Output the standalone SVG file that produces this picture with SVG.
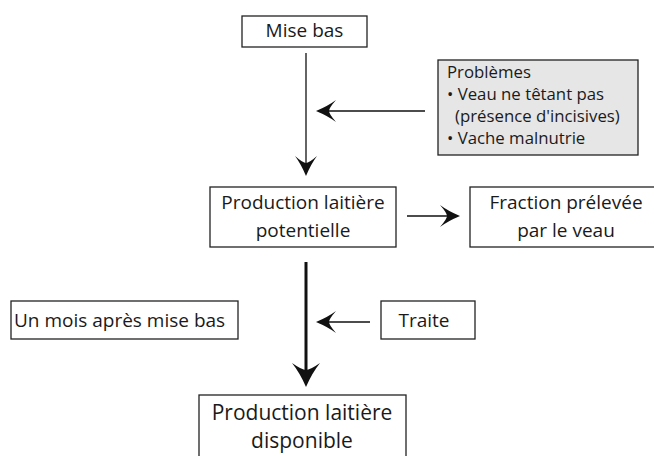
<svg xmlns="http://www.w3.org/2000/svg" width="654" height="456" viewBox="0 0 654 456">
<style>
  .box { fill: #ffffff; stroke: #222222; stroke-width: 1.3; }
  .grey { fill: #e6e6e6; }
  .t { font-family: "Open Sans", "Noto Sans", sans-serif; font-size: 19px; fill: #1a1a1a; }
  .c { text-anchor: middle; }
  .p { font-size: 16.8px; }
  .big { font-size: 21px; }
  .thin { fill: none; stroke: #111111; stroke-width: 1.3; }
  .thick { fill: none; stroke: #111111; stroke-width: 3; }
</style>
<defs>
  <marker id="ah" viewBox="-12 -12 24 24" markerWidth="24" markerHeight="24" refX="0" refY="0" orient="auto" markerUnits="userSpaceOnUse">
    <path d="M10,0 Q-2,-5 -10,-11 Q-3,-3 -3,0 Q-3,3 -10,11 Q-2,5 10,0 Z" fill="#111111"/>
  </marker>
  <marker id="ahB" viewBox="-16 -16 32 32" markerWidth="32" markerHeight="32" refX="0" refY="0" orient="auto" markerUnits="userSpaceOnUse">
    <path d="M12,0 Q-2,-6 -12,-14 Q-5,-4 -5,0 Q-5,4 -12,14 Q-2,6 12,0 Z" fill="#111111"/>
  </marker>
</defs>
<rect width="654" height="456" fill="#ffffff"/>
<g id="connectors">
  <path class="thin" d="M306,53 V166" marker-end="url(#ah)"/>
  <path class="thin" d="M425,111 H326" marker-end="url(#ah)"/>
  <path class="thin" d="M407,216 H450" marker-end="url(#ah)"/>
  <path class="thick" d="M306,262 V375" marker-end="url(#ahB)"/>
  <path class="thin" d="M370,322 H326" marker-end="url(#ah)"/>
</g>
<g id="mise-bas">
  <rect class="box" x="242" y="16" width="125" height="31"/>
  <text class="t c" x="304.5" y="37">Mise bas</text>
</g>
<g id="problemes">
  <rect class="box grey" x="438" y="60" width="200" height="95"/>
  <text class="t p" x="447" y="78">Problèmes</text>
  <text class="t p" x="447" y="100">• Veau ne têtant pas</text>
  <text class="t p" x="455" y="122">(présence d'incisives)</text>
  <text class="t p" x="447" y="144">• Vache malnutrie</text>
</g>
<g id="production-potentielle">
  <rect class="box" x="210" y="187" width="186" height="60"/>
  <text class="t c" x="303" y="209">Production laitière</text>
  <text class="t c" x="303" y="237">potentielle</text>
</g>
<g id="fraction">
  <rect class="box" x="470" y="187" width="200" height="60"/>
  <text class="t c" x="566" y="209">Fraction prélevée</text>
  <text class="t c" x="566" y="237">par le veau</text>
</g>
<g id="un-mois">
  <rect class="box" x="11" y="301" width="227" height="38"/>
  <text class="t" x="14" y="327">Un mois après mise bas</text>
</g>
<g id="traite">
  <rect class="box" x="381" y="301" width="94" height="38"/>
  <text class="t c" x="424" y="327">Traite</text>
</g>
<g id="production-disponible">
  <rect class="box" x="199" y="395" width="207" height="80"/>
  <text class="t c big" x="302" y="420">Production laitière</text>
  <text class="t c big" x="302" y="448">disponible</text>
</g>
</svg>
